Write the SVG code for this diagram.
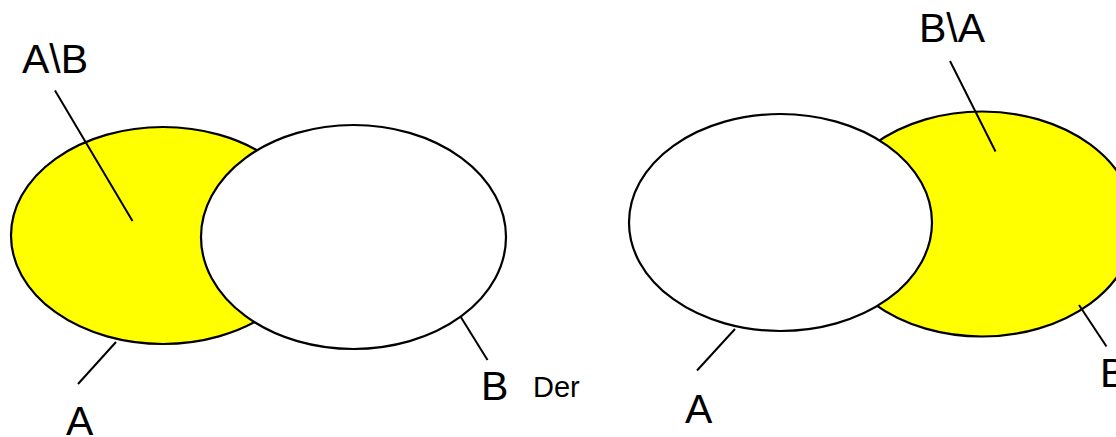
<svg xmlns="http://www.w3.org/2000/svg" width="1116" height="437" viewBox="0 0 1116 437">
<style>
.set{stroke:#000;stroke-width:2.2}
.y{fill:#ffff00}
.w{fill:#fff}
.lbl{font-family:"Liberation Sans",Arial,sans-serif;font-size:41px;fill:#000}
.sm{font-size:29px}
.ptr{stroke:#000;stroke-width:2;fill:none}
</style>
<rect width="1116" height="437" fill="#fff"/>
<g id="left-A"><ellipse class="set y" cx="163" cy="235.5" rx="152" ry="108.5"/></g>
<g id="left-B"><ellipse class="set w" cx="353.5" cy="237" rx="152.5" ry="112"/></g>
<g id="right-B"><ellipse class="set y" cx="982" cy="224" rx="153" ry="112.5"/></g>
<g id="right-A"><ellipse class="set w" cx="780.5" cy="222.5" rx="151.5" ry="108.5"/></g>
<g id="connectors">
<line class="ptr" x1="55" y1="90.5" x2="132.5" y2="221"/>
<line class="ptr" x1="116" y1="342" x2="78" y2="384" stroke-width="1.6"/>
<line class="ptr" x1="460.5" y1="316.5" x2="487.5" y2="360"/>
<line class="ptr" x1="950" y1="61" x2="995.5" y2="151.5"/>
<line class="ptr" x1="735" y1="329" x2="697" y2="370.5"/>
<line class="ptr" x1="1079" y1="305" x2="1106.5" y2="346.5"/>
</g>
<g id="labels">
<text class="lbl" x="22" y="73">A\B</text>
<text class="lbl" x="66" y="435">A</text>
<text class="lbl" x="481" y="400">B</text>
<text class="lbl sm" x="533" y="397">Der</text>
<text class="lbl" x="919" y="42">B\A</text>
<text class="lbl" x="685" y="423">A</text>
<text class="lbl" x="1100" y="387">B</text>
</g>
</svg>
